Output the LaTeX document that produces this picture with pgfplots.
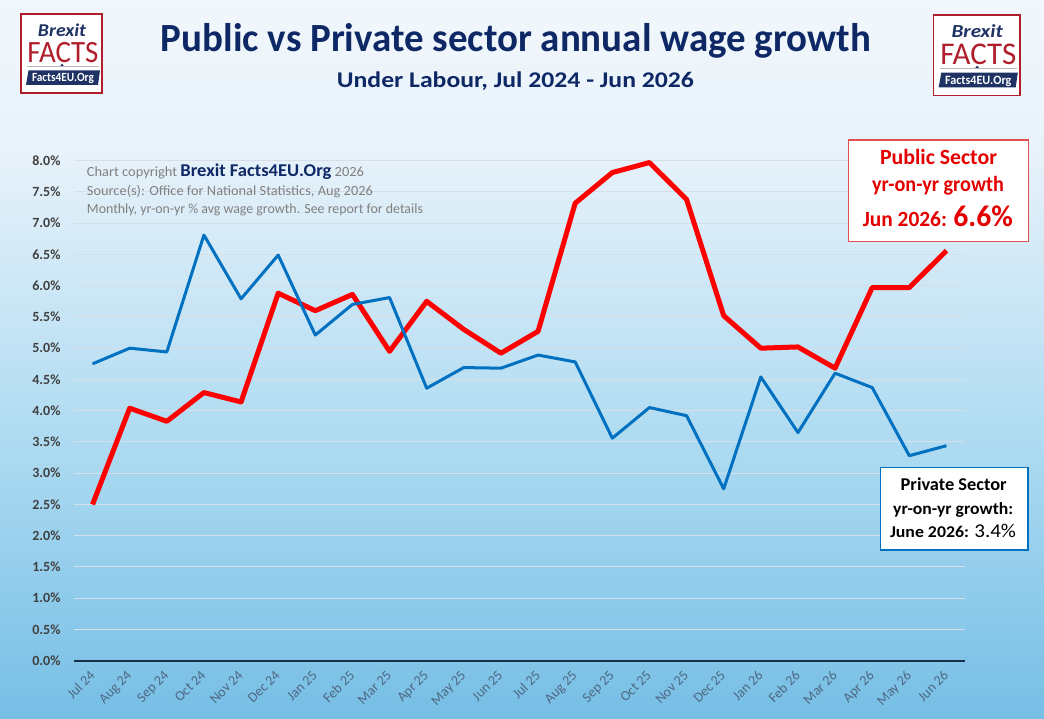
\documentclass[border=0pt]{standalone}
\usepackage{fontspec}
\setmainfont{Carlito}
\usepackage{pgfplots}
\pgfplotsset{compat=1.18}
\usepackage{graphicx}

\definecolor{navy}{RGB}{14,40,102}
\definecolor{pubred}{RGB}{255,0,0}
\definecolor{txtred}{RGB}{228,0,0}
\definecolor{boxred}{RGB}{225,80,80}
\definecolor{privblue}{RGB}{0,112,192}
\definecolor{bg0}{RGB}{241,247,252}
\definecolor{bg1}{RGB}{232,242,250}
\definecolor{bg2}{RGB}{172,218,241}
\definecolor{bg3}{RGB}{118,190,229}
\definecolor{gridc}{RGB}{214,222,230}
\definecolor{axisnavy}{RGB}{22,48,75}
\definecolor{ylab}{RGB}{64,64,64}
\definecolor{xlab}{RGB}{78,104,130}
\definecolor{notegray}{RGB}{128,128,128}
\definecolor{logored}{RGB}{176,30,44}
\definecolor{logonavy}{RGB}{30,50,100}

\newcommand\fs[1]{\fontsize{#1}{#1}\selectfont}

\newcommand\logo[4]{%
\begin{scope}[shift={(#1,#2)}, xscale=#3, yscale=#4, transform shape]
\fill[white] (0,0) rectangle (81,-79);
\draw[logored, line width=1.6pt] (0,0) rectangle (81,-79);
\node[anchor=base, inner sep=0, text=logonavy] at (41,-22.5) {\resizebox{48pt}{\height}{\fs{18}\bfseries\itshape Brexit}};
\node[anchor=base, inner sep=0, text=logored] at (42,-49) {\resizebox{71pt}{\height}{\fs{31}FACTS}};
\draw[gray!55, line width=0.6pt] (6,-52.2) -- (78,-52.2);
\fill[logonavy] (39.3,-51.9) -- (42.7,-51.9) -- (41,-49.6) -- cycle;
\fill[logonavy] (7.5,-56.5) -- (79,-56.5) -- (77,-71) -- (5,-71) -- cycle;
\node[anchor=base, inner sep=0, text=white] at (42,-68) {\resizebox{62pt}{\height}{\fs{12.5}\bfseries Facts4EU.Org}};
\end{scope}}

\begin{document}
\begin{tikzpicture}[x=1pt,y=1pt]
\useasboundingbox (0,0) rectangle (1044,719);
\shade[top color=bg0,bottom color=bg1] (0,568.8) rectangle (1044,719);
\shade[top color=bg1,bottom color=bg2] (0,268.8) rectangle (1044,569.2);
\shade[top color=bg2,bottom color=bg3] (0,0) rectangle (1044,269.2);

\begin{axis}[
  at={(74pt,58.3pt)}, anchor=south west,
  scale only axis, width=891pt, height=500pt,
  xmin=-0.5, xmax=23.5, ymin=0, ymax=8,
  axis x line=bottom, axis y line=left,
  x axis line style={draw=axisnavy, line width=2.2pt, -},
  y axis line style={draw=none},
  major tick length=0pt,
  xtick={0,1,2,3,4,5,6,7,8,9,10,11,12,13,14,15,16,17,18,19,20,21,22,23},
  xticklabels={Jul 24,Aug 24,Sep 24,Oct 24,Nov 24,Dec 24,Jan 25,Feb 25,Mar 25,Apr 25,May 25,Jun 25,Jul 25,Aug 25,Sep 25,Oct 25,Nov 25,Dec 25,Jan 26,Feb 26,Mar 26,Apr 26,May 26,Jun 26},
  ytick={0,0.5,1,1.5,2,2.5,3,3.5,4,4.5,5,5.5,6,6.5,7,7.5,8},
  yticklabels={0.0\%,0.5\%,1.0\%,1.5\%,2.0\%,2.5\%,3.0\%,3.5\%,4.0\%,4.5\%,5.0\%,5.5\%,6.0\%,6.5\%,7.0\%,7.5\%,8.0\%},
  ymajorgrids, major grid style={draw=gridc, line width=0.9pt},
  xticklabel style={rotate=45, anchor=north east, font=\fs{14}, text=xlab, inner sep=1pt, xshift=-8pt, yshift=-2.5pt},
  yticklabel style={font=\fs{14}\bfseries, text=ylab, xshift=-10pt},
  clip=false,
]
\addplot[pubred, line width=5pt, line join=round, mark=none] coordinates {
(0,2.50) (1,4.04) (2,3.83) (3,4.29) (4,4.14) (5,5.88) (6,5.60) (7,5.86) (8,4.95) (9,5.75) (10,5.30) (11,4.92) (12,5.27) (13,7.32) (14,7.81) (15,7.97) (16,7.38) (17,5.52) (18,5.00) (19,5.02) (20,4.68) (21,5.97) (22,5.97) (23,6.56)};
\addplot[privblue, line width=3pt, line join=round, mark=none] coordinates {
(0,4.75) (1,5.00) (2,4.94) (3,6.81) (4,5.79) (5,6.49) (6,5.21) (7,5.70) (8,5.81) (9,4.36) (10,4.69) (11,4.68) (12,4.89) (13,4.78) (14,3.56) (15,4.05) (16,3.92) (17,2.75) (18,4.54) (19,3.65) (20,4.60) (21,4.37) (22,3.28) (23,3.44)};
\end{axis}

% titles
\node[anchor=base west, inner sep=0, text=navy] at (160.7,667.3) {\resizebox{710pt}{\height}{\fs{40}\bfseries Public vs Private sector annual wage growth}};
\node[anchor=base west, inner sep=0, text=navy] at (336.7,631.3) {\resizebox{357pt}{\height}{\fs{22.4}\bfseries Under Labour, Jul 2024 - Jun 2026}};

% notes
\node[anchor=base west, inner sep=0, text=notegray] at (86.7,542.3) {\resizebox{277pt}{\height}{\fs{14}Chart copyright {\color{navy}\fs{18}\bfseries Brexit Facts4EU.Org} 2026}};
\node[anchor=base west, inner sep=0, text=notegray] at (86.7,523) {\resizebox{286pt}{\height}{\fs{14}Source(s): Office for National Statistics, Aug 2026}};
\node[anchor=base west, inner sep=0, text=notegray] at (86.7,505.7) {\resizebox{336pt}{\height}{\fs{14}Monthly, yr-on-yr \% avg wage growth. See report for details}};

% public box
\draw[boxred, line width=1.2pt, fill=white] (848.7,477.3) rectangle (1028.4,579);
\node[anchor=base, inner sep=0, text=txtred] at (938.5,554) {\resizebox{117pt}{\height}{\fs{21.7}\bfseries Public Sector}};
\node[anchor=base, inner sep=0, text=txtred] at (938,527.3) {\resizebox{132pt}{\height}{\fs{21.7}\bfseries yr-on-yr growth}};
\node[anchor=base, inner sep=0, text=txtred] at (937.8,492.3) {\resizebox{150pt}{\height}{\fs{21.7}\bfseries Jun 2026: {\fs{30}6.6\%}}};

% private box
\draw[privblue, line width=1.2pt, fill=white] (880.6,169) rectangle (1028,251.3);
\node[anchor=base, inner sep=0, text=black] at (953.7,228.3) {\resizebox{106pt}{\height}{\fs{18}\bfseries Private Sector}};
\node[anchor=base, inner sep=0, text=black] at (953.2,204) {\resizebox{120pt}{\height}{\fs{17}\bfseries yr-on-yr growth:}};
\node[anchor=base, inner sep=0, text=black] at (953,181.3) {\resizebox{126pt}{\height}{\fs{16.5}\bfseries June 2026: {\mdseries\fs{19.5}3.4\%}}};

% logos
\logo{21}{705}{1}{1}
\logo{933.3}{704}{1.07}{1.02}
\end{tikzpicture}
\end{document}
